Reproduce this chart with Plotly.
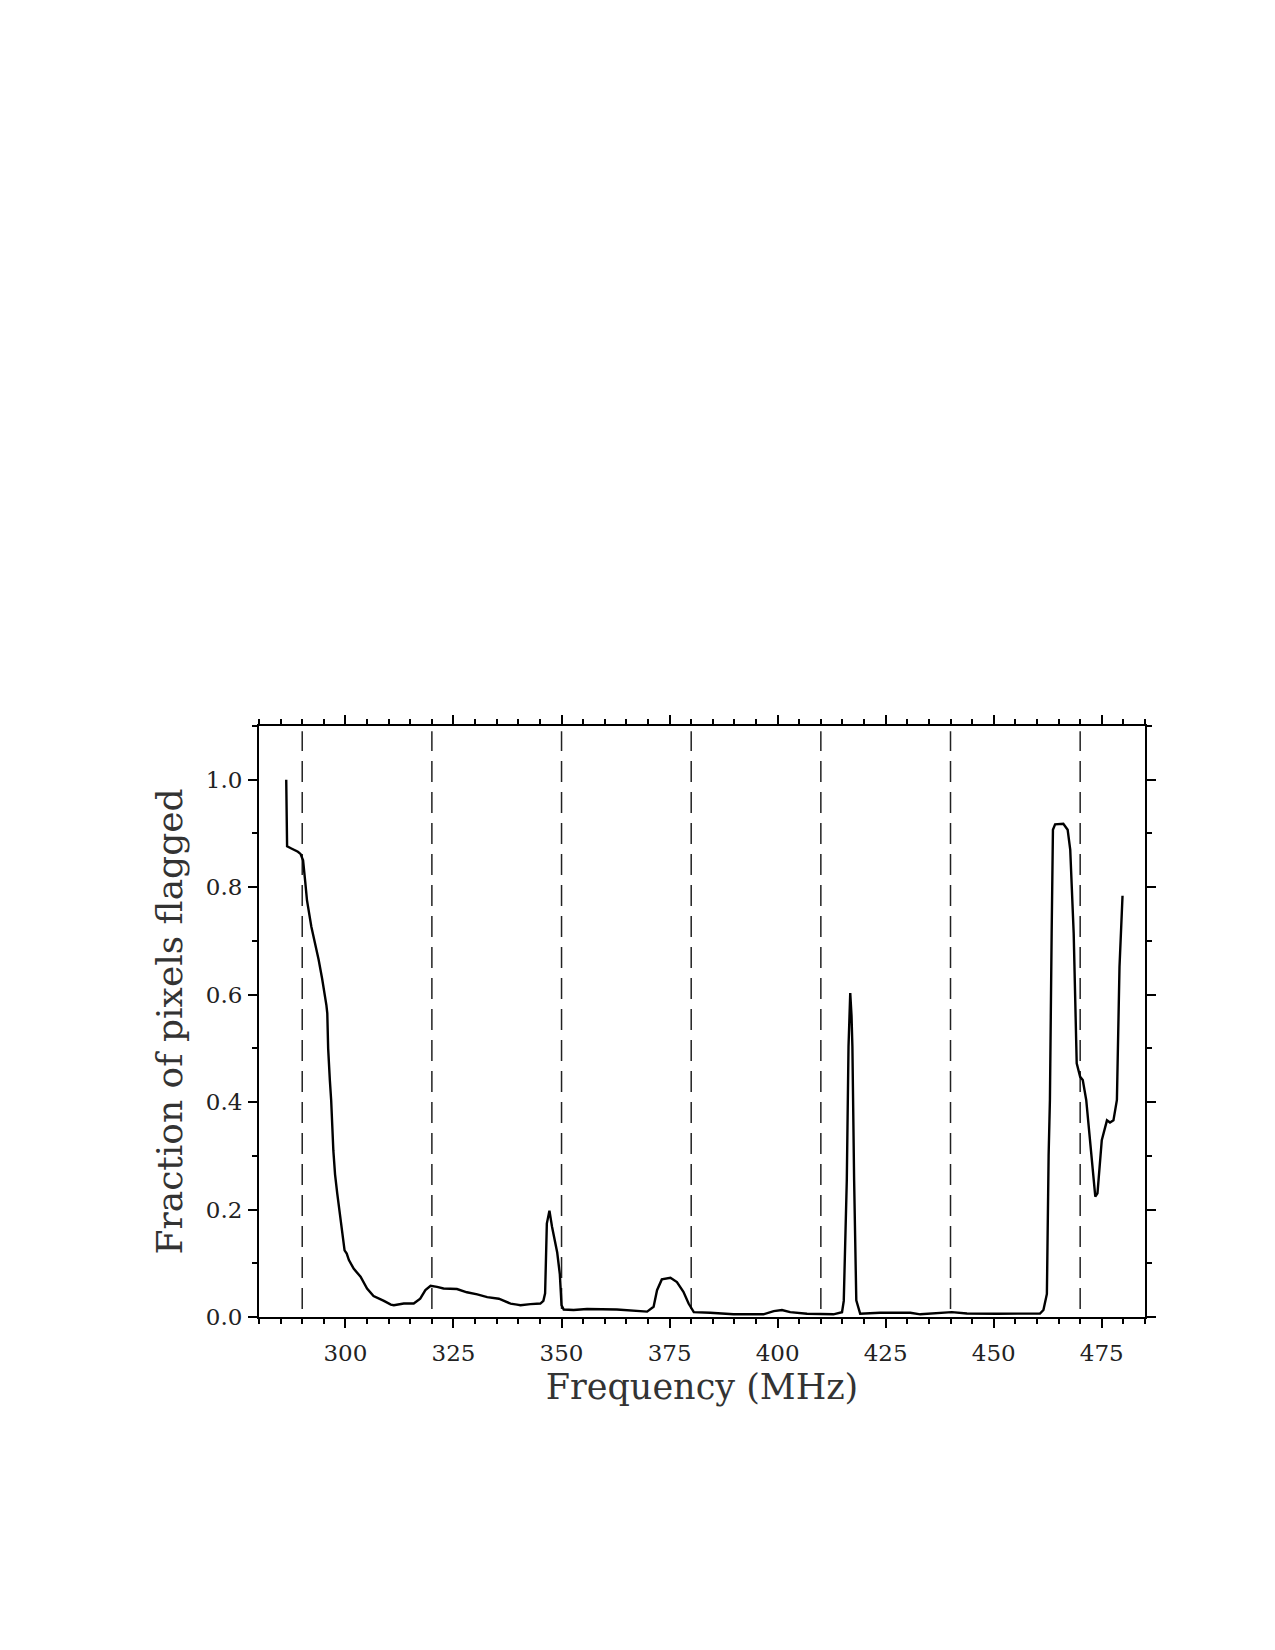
import plotly.graph_objects as go

freq = [286.3, 286.5, 287.5, 289.0, 289.6, 290.2, 290.7, 291.1, 292.1, 293.0, 293.8, 294.6, 295.2, 295.6,
        295.8, 296.0, 296.4, 296.7, 297.2, 297.6, 298.1, 298.7, 299.2, 299.8, 300.3, 300.8, 301.9, 303.5,
        305.0, 306.5, 308.9, 310.5, 311.2, 313.5, 315.8, 317.3, 318.5, 319.7, 321.2, 322.7, 325.8, 328.1,
        330.5, 332.8, 335.5, 338.2, 339.7, 340.5, 342.8, 345.1, 345.8, 346.2, 346.6, 347.2, 347.8, 349.0,
        349.6, 349.8, 350.0, 350.5, 352.8, 355.9, 362.8, 369.8, 371.3, 372.1, 373.2, 375.2, 376.7, 378.2,
        379.4, 380.6, 384.4, 389.8, 396.7, 399.1, 401.0, 402.9, 406.8, 412.9, 414.9, 415.3, 416.0, 416.4,
        416.6, 416.8, 417.1, 417.3, 417.7, 418.2, 419.1, 423.7, 430.7, 433.0, 440.3, 443.8, 450.7, 460.7,
        461.5, 462.3, 462.7, 463.0, 463.4, 463.7, 464.2, 466.1, 467.1, 467.7, 468.5, 469.2, 470.0, 470.6,
        471.4, 472.5, 473.5, 474.0, 475.0, 476.2, 476.9, 477.7, 478.5, 479.1, 479.8]
frac = [1.000, 0.876, 0.872, 0.866, 0.862, 0.850, 0.810, 0.776, 0.727, 0.695, 0.665, 0.630, 0.602, 0.580,
        0.565, 0.500, 0.440, 0.403, 0.310, 0.265, 0.230, 0.195, 0.168, 0.124, 0.118, 0.106, 0.090, 0.075,
        0.053, 0.039, 0.030, 0.023, 0.022, 0.025, 0.025, 0.034, 0.050, 0.058, 0.056, 0.053, 0.052, 0.046,
        0.042, 0.037, 0.034, 0.025, 0.023, 0.022, 0.024, 0.025, 0.030, 0.044, 0.174, 0.198, 0.168, 0.120,
        0.080, 0.045, 0.022, 0.014, 0.013, 0.015, 0.014, 0.010, 0.019, 0.050, 0.070, 0.073, 0.065, 0.047,
        0.025, 0.009, 0.008, 0.005, 0.005, 0.011, 0.013, 0.009, 0.006, 0.005, 0.009, 0.030, 0.254, 0.503,
        0.560, 0.603, 0.560, 0.503, 0.254, 0.031, 0.006, 0.008, 0.008, 0.005, 0.009, 0.0065, 0.006, 0.0065,
        0.013, 0.043, 0.300, 0.404, 0.714, 0.907, 0.917, 0.918, 0.907, 0.870, 0.714, 0.472, 0.447, 0.441,
        0.404, 0.310, 0.224, 0.230, 0.329, 0.366, 0.362, 0.366, 0.404, 0.652, 0.784]

band_edges = [290, 320, 350, 380, 410, 440, 470]

x_title = "Frequency (MHz)"
y_title = "Fraction of pixels flagged"

FONT = "DejaVu Serif"

fig = go.Figure()

for f in band_edges:
    fig.add_trace(go.Scatter(x=[f, f], y=[0.015, 1.09], mode="lines",
                             line=dict(color="#222222", width=1.5, dash="21px,10px"),
                             showlegend=False, hoverinfo="skip"))

fig.add_trace(go.Scatter(x=freq, y=frac, mode="lines",
                         line=dict(color="black", width=2.4),
                         showlegend=False))

axis_common = dict(
    showline=True, linecolor="black", linewidth=2, mirror="allticks",
    ticks="outside", tickcolor="black", tickwidth=2, ticklen=9,
    showgrid=False, zeroline=False,
    tickfont=dict(family=FONT, size=23, color="#222222"),
)

fig.update_xaxes(
    range=[280, 485], tick0=300, dtick=25,
    minor=dict(ticks="outside", dtick=5, tick0=280, ticklen=5, tickwidth=1.5, tickcolor="black"),
    title=dict(text=x_title, font=dict(family=FONT, size=35, color="#333333"), standoff=10),
    ticklabelstandoff=5,
    **axis_common,
)
fig.update_yaxes(
    range=[0, 1.1], tick0=0, dtick=0.2, tickformat=".1f",
    minor=dict(ticks="outside", dtick=0.1, ticklen=5, tickwidth=1.5, tickcolor="black"),
    title=dict(text=y_title, font=dict(family=FONT, size=36, color="#333333"), standoff=12),
    ticklabelstandoff=1,
    **axis_common,
)

fig.update_layout(
    width=1275, height=1650, autosize=False,
    margin=dict(l=259, r=130, t=726, b=333),
    paper_bgcolor="white", plot_bgcolor="white",
)

fig.write_html("out.html")
